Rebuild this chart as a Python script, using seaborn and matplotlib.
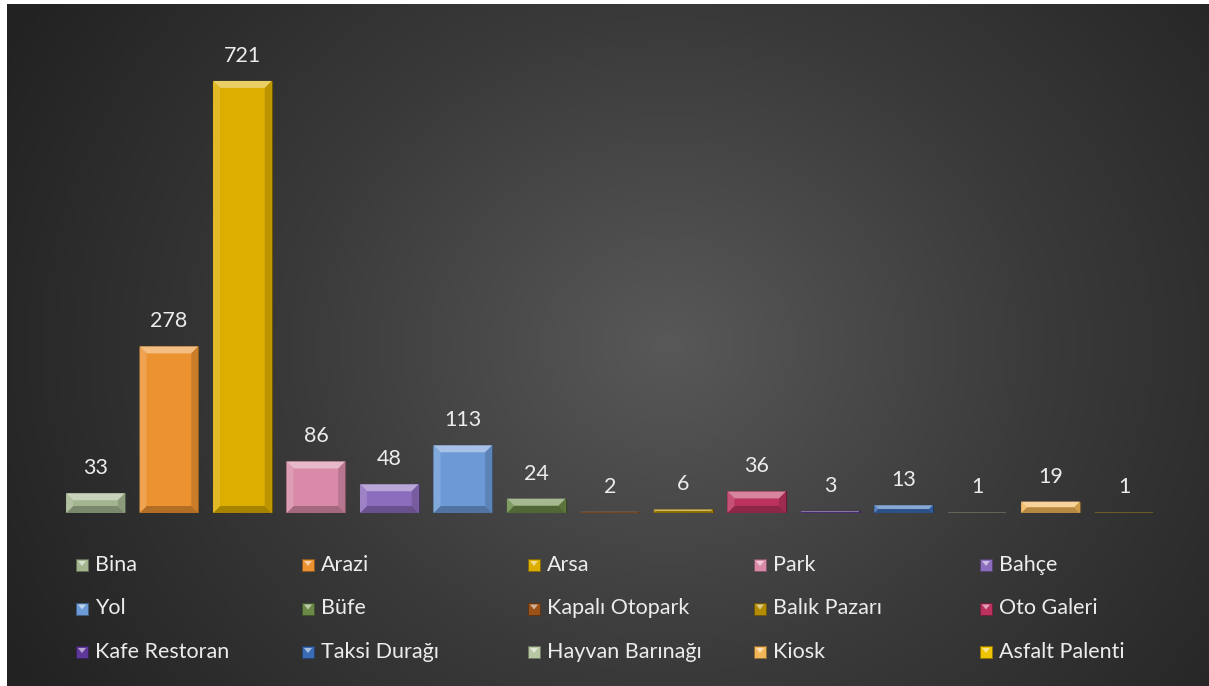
import numpy as np
import matplotlib.pyplot as plt
import matplotlib.colors as mcolors
from matplotlib.patches import Polygon, Rectangle
import seaborn as sns

categories = ["Bina", "Arazi", "Arsa", "Park", "Bahçe", "Yol", "Büfe",
              "Kapalı Otopark", "Balık Pazarı", "Oto Galeri", "Kafe Restoran",
              "Taksi Durağı", "Hayvan Barınağı", "Kiosk", "Asfalt Palenti"]
counts = [33, 278, 721, 86, 48, 113, 24, 2, 6, 36, 3, 13, 1, 19, 1]
colors = ["#a3b58f", "#ec9230", "#dcae00", "#d98aa8", "#8c6cbc", "#6c9ad6",
          "#6b8a47", "#9a5218", "#b48c04", "#bc325e", "#5e3898", "#3a6cb6",
          "#b9c8a4", "#f2b658", "#f0c400"]

sns.set_theme(style="white")
plt.rcParams['font.family'] = ['Lato', 'DejaVu Sans']
txt_color = "#ececec"

W, H = 1209, 686
fig = plt.figure(figsize=(W / 100, H / 100), dpi=100, facecolor="white")


def mix(c, other, t):
    a = np.array(mcolors.to_rgb(c))
    b = np.array(mcolors.to_rgb(other))
    return tuple(a * (1 - t) + b * t)


# dark radial background
bg = fig.add_axes([7 / W, 0, 1 - 7 / W, 1 - 4 / H], zorder=-5)
yy, xx = np.mgrid[0:1:300j, 0:1:500j]
r = np.sqrt(((xx - 0.55) * 1.15) ** 2 + ((yy - 0.5) * 0.75) ** 2)
r = np.clip(r / 0.72, 0, 1)
bg_cmap = mcolors.LinearSegmentedColormap.from_list("bg", ["#585858", "#3a3a3a", "#222222"])
bg.imshow(r, cmap=bg_cmap, aspect="auto", extent=[0, 1, 0, 1], origin="lower")
bg.set_axis_off()

# bars
ax = fig.add_axes([58.75 / W, 1 - 513 / H, 1102 / W, (513 - 33.6) / H])
ax.set_facecolor("none")
sns.barplot(x=categories, y=counts, hue=categories, palette=colors,
            width=0.8, legend=False, ax=ax, saturation=1)
ax.set_xlim(-0.5, len(categories) - 0.5)
ax.set_ylim(0, 800)
ax.set_axis_off()

px_x = ax.bbox.width / len(categories)
px_y = ax.bbox.height / 800

for p in list(ax.patches):
    i = int(round(p.get_x() + p.get_width() / 2))
    col = colors[i]
    x0, y0, w, h = p.get_x(), p.get_y(), p.get_width(), p.get_height()
    if h * px_y < 1:
        p.set_edgecolor("none")
        p.set_alpha(0.3)
    else:
        p.set_edgecolor(mix(col, "black", 0.5))
        p.set_linewidth(0.8)
        b = min(7, w * px_x / 2, h * px_y / 2)
        bx, by = b / px_x, b / px_y
        x1, y1 = x0 + w, y0 + h
        faces = [
            ([(x0, y1), (x1, y1), (x1 - bx, y1 - by), (x0 + bx, y1 - by)], mix(col, "white", 0.4)),
            ([(x0, y0), (x1, y0), (x1 - bx, y0 + by), (x0 + bx, y0 + by)], mix(col, "black", 0.25)),
            ([(x0, y0), (x0, y1), (x0 + bx, y1 - by), (x0 + bx, y0 + by)], mix(col, "white", 0.15)),
            ([(x1, y0), (x1, y1), (x1 - bx, y1 - by), (x1 - bx, y0 + by)], mix(col, "black", 0.15)),
        ]
        for pts, fc in faces:
            ax.add_patch(Polygon(pts, closed=True, facecolor=fc, edgecolor="none", zorder=3))
    ax.annotate(str(counts[i]), (i, counts[i]), xytext=(0, 18), textcoords="offset points",
                ha="center", va="center", fontsize=15.5, color=txt_color)

# legend, 5 columns filled row by row
for i, (cat, col) in enumerate(zip(categories, colors)):
    row, c = divmod(i, 5)
    xm = 76 + 226 * c
    ym = 565 + 43.5 * row
    fig.patches.append(Rectangle(((xm) / W, 1 - (ym + 6) / H), 12 / W, 12 / H,
                                 transform=fig.transFigure, facecolor=col,
                                 edgecolor=mix(col, "black", 0.4), linewidth=0.6))
    fig.patches.append(Polygon([((xm + 2) / W, 1 - (ym - 4) / H), ((xm + 10) / W, 1 - (ym - 4) / H),
                                ((xm + 6) / W, 1 - (ym + 1) / H)], closed=True,
                               transform=fig.transFigure, facecolor=mix(col, "white", 0.55),
                               edgecolor="none"))
    fig.text((xm + 19) / W, 1 - ym / H, cat, ha="left", va="center",
             fontsize=15.5, color=txt_color)

fig.savefig("out.png", dpi=100, facecolor="white")
